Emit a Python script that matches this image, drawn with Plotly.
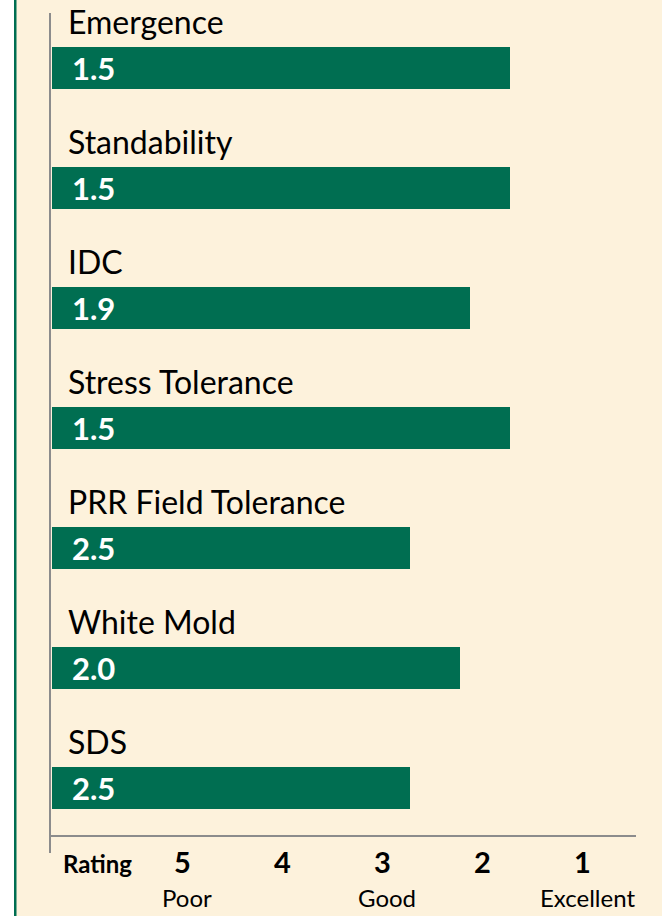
import plotly.graph_objects as go

categories = ["Emergence", "Standability", "IDC", "Stress Tolerance",
              "PRR Field Tolerance", "White Mold", "SDS"]
values = [1.5, 1.5, 1.9, 1.5, 2.5, 2.0, 2.5]
tick_numbers = ["5", "4", "3", "2", "1"]
tick_values = [5, 4, 3, 2, 1]
tick_words = ["Poor", "", "Good", "", "Excellent"]

W, H = 662, 916
ML, MR, MT, MB = 50, 26, 10, 80
PW = W - ML - MR
PH = H - MT - MB

BAR = "#006E51"
BG = "#FDF2DC"
AXIS = "#8C8C8C"
FONT = "Lato"

AXIS_MAX = 6.1
BASE = 6.08
ypos = list(range(len(categories)))

def px_x(px):
    return (px - ML) / PW

def px_y(py):
    return 1 - (py - MT) / PH

fig = go.Figure()
fig.add_trace(go.Bar(
    y=ypos, x=[v - BASE for v in values], base=BASE, orientation="h",
    marker=dict(color=BAR, line=dict(width=0)), width=0.35,
    hoverinfo="skip", showlegend=False,
))

annotations = []
for i, (c, v) in enumerate(zip(categories, values)):
    annotations.append(dict(x=px_x(66), xref="paper", y=i - 0.385, yref="y",
                            text=c, showarrow=False, xanchor="left", yanchor="middle",
                            font=dict(family=FONT, size=32, color="#000000")))
    annotations.append(dict(x=px_x(70), xref="paper", y=i, yref="y",
                            text="<b>%.1f</b>" % v, showarrow=False, xanchor="left",
                            yanchor="middle",
                            font=dict(family=FONT, size=31, color="#FFFFFF")))

annotations.append(dict(x=px_x(97), xref="paper", y=px_y(864), yref="paper",
                        text="<b>Rating</b>", showarrow=False, xanchor="center",
                        yanchor="middle", font=dict(family=FONT, size=24, color="#000")))
for n, tv, w in zip(tick_numbers, tick_values, tick_words):
    xd = tv - 0.22
    annotations.append(dict(x=xd, xref="x", y=px_y(861), yref="paper",
                            text="<b>%s</b>" % n, showarrow=False, xanchor="center",
                            yanchor="middle", font=dict(family=FONT, size=29, color="#000")))
    if w:
        annotations.append(dict(x=xd - 0.05, xref="x", y=px_y(897), yref="paper",
                                text=w, showarrow=False, xanchor="center",
                                yanchor="middle", font=dict(family=FONT, size=24, color="#000")))

shapes = [
    dict(type="rect", xref="paper", yref="paper", x0=px_x(-5), x1=px_x(14),
         y0=px_y(-5), y1=px_y(H + 5), fillcolor="#FFFFFF", line=dict(width=0), layer="below"),
    dict(type="rect", xref="paper", yref="paper", x0=px_x(14), x1=px_x(16.5),
         y0=px_y(-5), y1=px_y(H + 5), fillcolor=BAR, line=dict(width=0), layer="above"),
    dict(type="line", xref="paper", yref="paper", x0=px_x(50), x1=px_x(50),
         y0=px_y(13), y1=px_y(853), line=dict(color=AXIS, width=2)),
    dict(type="line", xref="paper", yref="paper", x0=px_x(50), x1=px_x(636),
         y0=px_y(836), y1=px_y(836), line=dict(color=AXIS, width=2)),
]

fig.update_layout(
    width=W, height=H,
    margin=dict(l=ML, r=MR, t=MT, b=MB, pad=0),
    paper_bgcolor=BG, plot_bgcolor=BG,
    xaxis=dict(range=[AXIS_MAX, AXIS_MAX - PW / 100.0], showgrid=False, zeroline=False,
               showticklabels=False, showline=False, fixedrange=True),
    yaxis=dict(range=[(H - MB - 68) / 120.0, (MT - 68) / 120.0], showgrid=False,
               zeroline=False, showticklabels=False, showline=False, fixedrange=True),
    annotations=annotations, shapes=shapes,
    font=dict(family=FONT),
)

fig.write_html("out.html", config={"displayModeBar": False},
               post_script="document.body.style.margin='0';document.body.style.overflow='hidden';")
